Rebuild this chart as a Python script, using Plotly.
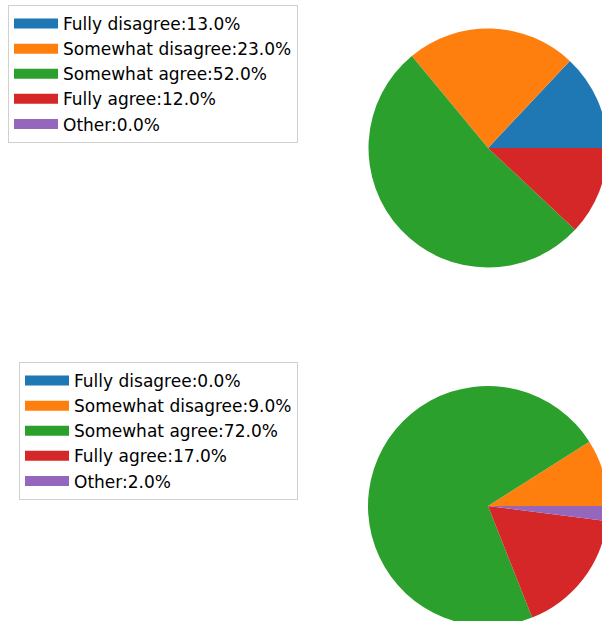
import plotly.graph_objects as go

categories = ["Fully disagree", "Somewhat disagree", "Somewhat agree", "Fully agree", "Other"]
survey1 = [13.0, 23.0, 52.0, 12.0, 0.0]
survey2 = [0.0, 9.0, 72.0, 17.0, 2.0]
colors = ["#1f77b4", "#ff7f0e", "#2ca02c", "#d62728", "#9467bd"]

# figure slightly larger than the window so the pies get cut at the edges
W, H = 612, 630


def labels_for(vals):
    return [f"{c}:{v:.1f}%" for c, v in zip(categories, vals)]


def start_angle(vals):
    # plotly puts the END of the first slice at `rotation` when counterclockwise,
    # so shift it to make the first slice start at 3 o'clock like matplotlib
    return 90 - 360 * vals[0] / sum(vals)


def dom(cx, cy, r):
    return dict(x=[(cx - r) / W, (cx + r) / W],
                y=[(H - cy - r) / H, (H - cy + r) / H])


fig = go.Figure()

for vals, cx, cy, r, leg in [(survey1, 488, 148, 119.5, "legend"),
                             (survey2, 488, 506, 120, "legend2")]:
    fig.add_trace(go.Pie(
        labels=labels_for(vals), values=vals,
        marker=dict(colors=colors, line=dict(width=0)),
        sort=False, direction="counterclockwise", rotation=start_angle(vals),
        textinfo="none", hoverinfo="none",
        domain=dom(cx, cy, r),
        showlegend=False,
    ))
    # legend entries with wide rectangular patches (like matplotlib)
    for lab, col in zip(labels_for(vals), colors):
        fig.add_trace(go.Scatter(
            x=[None], y=[None], mode="lines", name=lab,
            line=dict(color=col, width=11),
            legend=leg, hoverinfo="none",
        ))

legend_style = dict(
    font=dict(family="DejaVu Sans", size=17, color="#000000"),
    bgcolor="white", bordercolor="#d0d0d0", borderwidth=1,
    xanchor="left", yanchor="top", traceorder="normal",
    itemwidth=44,
)

fig.update_layout(
    width=W, height=H,
    margin=dict(l=0, r=0, t=0, b=0),
    paper_bgcolor="white", plot_bgcolor="white",
    xaxis=dict(visible=False), yaxis=dict(visible=False),
    legend=dict(x=8 / W, y=1 - 5 / H, **legend_style),
    legend2=dict(x=19 / W, y=1 - 362 / H, **legend_style),
)

fig.write_html(
    "out.html",
    config={"displayModeBar": False},
    post_script="document.body.style.margin='0';document.body.style.overflow='hidden';"
                "document.documentElement.style.overflow='hidden';",
)
